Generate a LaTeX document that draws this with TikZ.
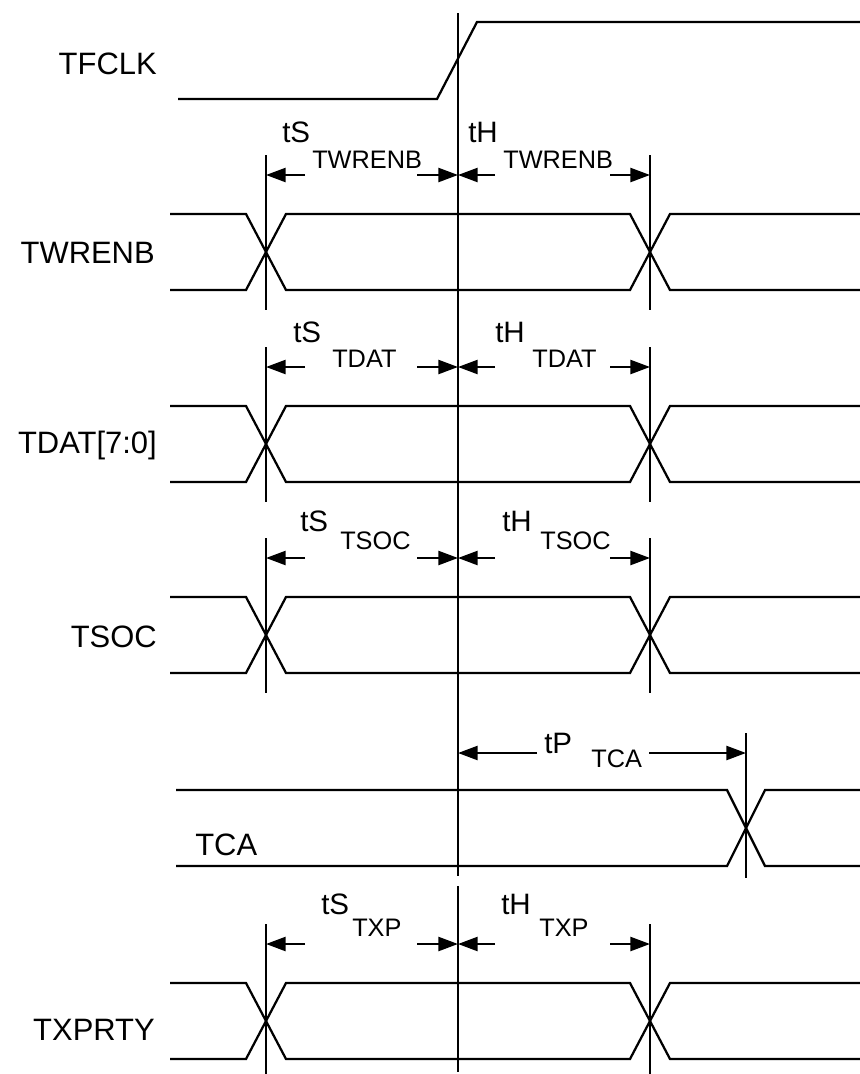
\documentclass[tikz,border=0pt]{standalone}
\usepackage{fontspec}
\setmainfont{Liberation Sans}
\usetikzlibrary{arrows.meta}

\begin{document}
\begin{tikzpicture}[x=0.025cm, y=-0.025cm,
    sig/.style={line width=1.6pt, line join=miter},
    tline/.style={line width=1.6pt},
    dim/.style={line width=1.6pt, -{Triangle[length=14pt,width=10pt]}},
    signame/.style={font=\fontsize{22}{26}\selectfont, anchor=east, inner sep=0pt},
    tlbl/.style={font=\fontsize{21}{24}\selectfont, anchor=base west, inner sep=0pt},
    tsub/.style={font=\fontsize{18}{21}\selectfont, anchor=base west, inner sep=0pt},
  ]
  \useasboundingbox (0,0) rectangle (860,1074);

  % signal names
  \node[signame] (nclk)  at (157,64)   {TFCLK};
  \node[signame] (nwr)   at (155,253)  {TWRENB};
  \node[signame] (ndat)  at (157,445)  {TDAT[7:0]};
  \node[signame] (nsoc)  at (157,637)  {TSOC};
  \node[signame, anchor=west] (nca) at (195,845) {TCA};
  \node[signame] (nxp)   at (155,1030) {TXPRTY};

  % clock
  \draw[sig] (178,99) -- (437,99) -- (477,22) -- (860,22);

  % reference edge
  \draw[tline] (458,13) -- (458,876);
  \draw[tline] (458,886) -- (458,1072);

  % buses with setup / hold
  \foreach \yc in {252,444,635,1021} {
    \draw[sig] (170,{\yc-38}) -- (246,{\yc-38}) -- (286,{\yc+38}) -- (630,{\yc+38})
               -- (670,{\yc-38}) -- (860,{\yc-38});
    \draw[sig] (170,{\yc+38}) -- (246,{\yc+38}) -- (286,{\yc-38}) -- (630,{\yc-38})
               -- (670,{\yc+38}) -- (860,{\yc+38});
    \draw[tline] (266,{\yc-97}) -- (266,{\yc+58});
    \draw[tline] (650,{\yc-97}) -- (650,{\yc+58});
    \draw[dim] (305,{\yc-77}) -- (266,{\yc-77});
    \draw[dim] (417,{\yc-77}) -- (458,{\yc-77});
    \draw[dim] (495,{\yc-77}) -- (458,{\yc-77});
    \draw[dim] (610,{\yc-77}) -- (650,{\yc-77});
  }

  % TCA
  \draw[sig] (176,790) -- (727,790) -- (765,866) -- (860,866);
  \draw[sig] (176,866) -- (727,866) -- (765,790) -- (860,790);
  \draw[tline] (746,733) -- (746,878);
  \draw[dim] (537,753) -- (458,753);
  \draw[dim] (649,753) -- (746,753);

  % timing labels
  \node[tlbl] (tsa)  at (282,142) {tS};
  \node[tsub] (tsas) at (312,168) {TWRENB};
  \node[tlbl] (tha)  at (468,142) {tH};
  \node[tsub] (thas) at (503,168) {TWRENB};

  \node[tlbl] (tsb)  at (293,342) {tS};
  \node[tsub] (tsbs) at (332,367) {TDAT};
  \node[tlbl] (thb)  at (495,342) {tH};
  \node[tsub] (thbs) at (532,367) {TDAT};

  \node[tlbl] (tsc)  at (300,531) {tS};
  \node[tsub] (tscs) at (340,549) {TSOC};
  \node[tlbl] (thc)  at (502,531) {tH};
  \node[tsub] (thcs) at (540,549) {TSOC};

  \node[tlbl] (tpd)  at (544,753) {tP};
  \node[tsub] (tpds) at (591,767) {TCA};

  \node[tlbl] (tse)  at (321,914) {tS};
  \node[tsub] (tses) at (352,936) {TXP};
  \node[tlbl] (the)  at (501,914) {tH};
  \node[tsub] (thes) at (539,936) {TXP};
\end{tikzpicture}
\end{document}
